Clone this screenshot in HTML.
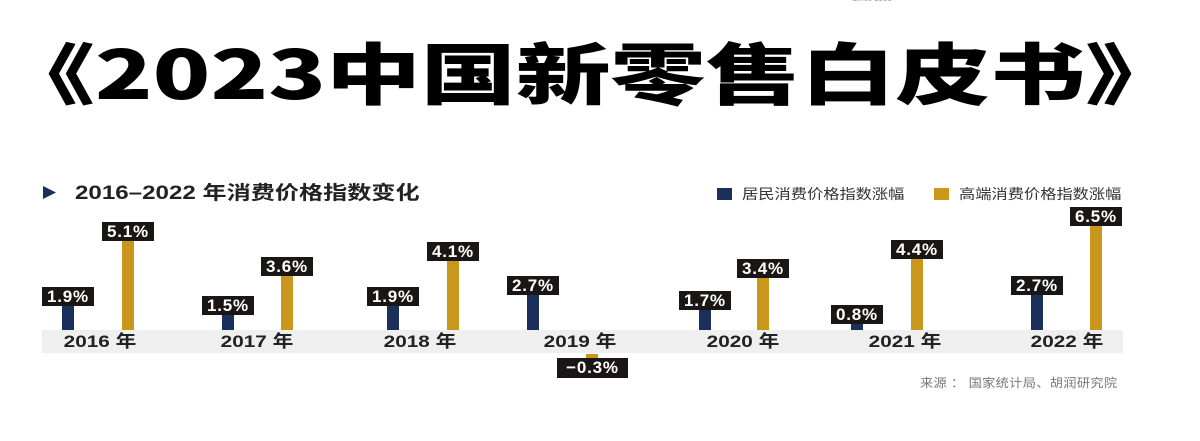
<!DOCTYPE html>
<html><head><meta charset="utf-8"><style>
body{margin:0;width:1200px;height:441px;background:#fff;position:relative;overflow:hidden;font-family:"Liberation Sans","Noto Sans CJK SC",sans-serif}
.a{position:absolute}
.n{position:absolute;background:#1b2f5b;width:12px}
.g{position:absolute;background:#c9971c;width:12px}
.l{position:absolute;background:#1a1616;color:#fff;font-weight:bold;font-size:17px;height:19px;line-height:19px;text-align:center;width:52px;letter-spacing:0.8px}
.y{position:absolute;top:331px;font-weight:bold;font-size:17px;color:#222;width:100px;text-align:center;line-height:22px;transform:scaleX(1.22)}
</style></head><body>
<div class="a" style="left:852px;top:-6px;font-size:8px;color:#999">Since 1999</div>
<svg class="a" style="left:0;top:0" width="1200" height="130"><text x="0" y="99" font-family="Noto Sans CJK SC, sans-serif" font-weight="900" font-size="67" textLength="1180" lengthAdjust="spacingAndGlyphs" fill="#000">《2023中国新零售白皮书》</text></svg>
<svg class="a" style="left:43px;top:186px" width="14" height="13"><polygon points="0,0 13,6.5 0,13" fill="#1b2f5b"/></svg>
<div class="a" style="left:75px;top:182px;font-size:19px;font-weight:bold;color:#222;line-height:24px;transform:scaleX(1.27);transform-origin:0 50%;white-space:nowrap">2016–2022 年消费价格指数变化</div>
<div class="a" style="left:717px;top:188px;width:15px;height:12px;background:#1b2f5b"></div>
<div class="a" style="left:742px;top:185px;font-size:14px;color:#333;line-height:18px;transform:scaleX(1.16);transform-origin:0 50%;white-space:nowrap">居民消费价格指数涨幅</div>
<div class="a" style="left:934px;top:188px;width:15px;height:12px;background:#c9971c"></div>
<div class="a" style="left:959px;top:185px;font-size:14px;color:#333;line-height:18px;transform:scaleX(1.16);transform-origin:0 50%;white-space:nowrap">高端消费价格指数涨幅</div>
<div class="a" style="left:42px;top:330px;width:1081px;height:23px;background:#efefef"></div>

<div class="n" style="left:62px;top:305px;height:25px"></div><div class="l" style="left:42px;top:287px">1.9%</div>
<div class="g" style="left:122px;top:240px;height:90px"></div><div class="l" style="left:102px;top:222px">5.1%</div>
<div class="n" style="left:222px;top:314px;height:16px"></div><div class="l" style="left:202px;top:296px">1.5%</div>
<div class="g" style="left:281px;top:275px;height:55px"></div><div class="l" style="left:261px;top:257px">3.6%</div>
<div class="n" style="left:387px;top:305px;height:25px"></div><div class="l" style="left:367px;top:287px">1.9%</div>
<div class="g" style="left:447px;top:260px;height:70px"></div><div class="l" style="left:427px;top:242px">4.1%</div>
<div class="n" style="left:527px;top:294px;height:36px"></div><div class="l" style="left:507px;top:276px">2.7%</div>
<div class="g" style="left:586px;top:354px;height:5px"></div><div class="l" style="left:557px;top:358px;width:71px;height:20px;line-height:20px">−0.3%</div>
<div class="n" style="left:699px;top:309px;height:21px"></div><div class="l" style="left:679px;top:291px">1.7%</div>
<div class="g" style="left:757px;top:277px;height:53px"></div><div class="l" style="left:737px;top:259px">3.4%</div>
<div class="n" style="left:851px;top:323px;height:7px"></div><div class="l" style="left:831px;top:305px">0.8%</div>
<div class="g" style="left:911px;top:258px;height:72px"></div><div class="l" style="left:891px;top:240px">4.4%</div>
<div class="n" style="left:1031px;top:294px;height:36px"></div><div class="l" style="left:1011px;top:276px">2.7%</div>
<div class="g" style="left:1090px;top:225px;height:105px"></div><div class="l" style="left:1070px;top:207px">6.5%</div>

<div class="y" style="left:50px">2016 年</div>
<div class="y" style="left:207px">2017 年</div>
<div class="y" style="left:370px">2018 年</div>
<div class="y" style="left:530px">2019 年</div>
<div class="y" style="left:693px">2020 年</div>
<div class="y" style="left:855px">2021 年</div>
<div class="y" style="left:1017px">2022 年</div>
<div class="a" style="left:920px;top:375px;font-size:12px;color:#777;line-height:16px;letter-spacing:0.3px;transform:scaleX(1.1);transform-origin:0 50%;white-space:nowrap">来源 ： 国家统计局、胡润研究院</div>
</body></html>
